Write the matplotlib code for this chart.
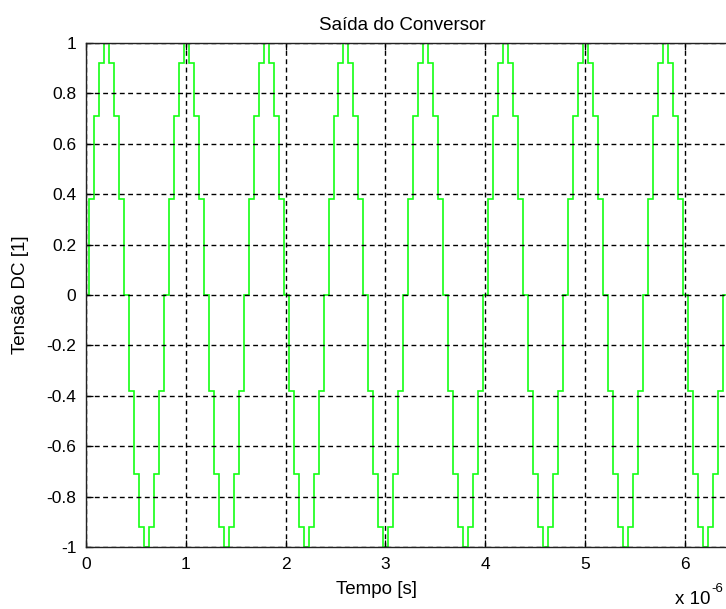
import matplotlib
matplotlib.use("Agg")
import matplotlib.pyplot as plt
import numpy as np

TITLE = "Saída do Conversor"
XLABEL = "Tempo [s]"
YLABEL = "Tensão DC [1]"

# nivel do conversor em cada degrau (16 degraus por periodo)
LEVELS = [
    0.0, 0.38, 0.71, 0.92, 1.0, 0.92, 0.71, 0.38, 0.0, -0.38, -0.71, -0.92, -1.0, -0.92, -0.71, -0.38,
    0.0, 0.38, 0.71, 0.92, 1.0, 0.92, 0.71, 0.38, 0.0, -0.38, -0.71, -0.92, -1.0, -0.92, -0.71, -0.38,
    0.0, 0.38, 0.71, 0.92, 1.0, 0.92, 0.71, 0.38, 0.0, -0.38, -0.71, -0.92, -1.0, -0.92, -0.71, -0.38,
    0.0, 0.38, 0.71, 0.92, 1.0, 0.92, 0.71, 0.38, 0.0, -0.38, -0.71, -0.92, -1.0, -0.92, -0.71, -0.38,
    0.0, 0.38, 0.71, 0.92, 1.0, 0.92, 0.71, 0.38, 0.0, -0.38, -0.71, -0.92, -1.0, -0.92, -0.71, -0.38,
    0.0, 0.38, 0.71, 0.92, 1.0, 0.92, 0.71, 0.38, 0.0, -0.38, -0.71, -0.92, -1.0, -0.92, -0.71, -0.38,
    0.0, 0.38, 0.71, 0.92, 1.0, 0.92, 0.71, 0.38, 0.0, -0.38, -0.71, -0.92, -1.0, -0.92, -0.71, -0.38,
    0.0, 0.38, 0.71, 0.92, 1.0, 0.92, 0.71, 0.38, 0.0, -0.38, -0.71, -0.92, -1.0, -0.92, -0.71, -0.38,
    0.0, 0.38, 0.71,
]
STEP = 0.05        # duracao de um degrau [us]
FIRST_EDGE = 0.03  # primeira transicao [us]

X_TICKS = [0, 1, 2, 3, 4, 5, 6]
Y_TICKS = [-1, -0.8, -0.6, -0.4, -0.2, 0, 0.2, 0.4, 0.6, 0.8, 1]
Y_TICK_LABELS = ["-1", "-0.8", "-0.6", "-0.4", "-0.2", "0", "0.2", "0.4", "0.6", "0.8", "1"]

plt.rcParams["font.family"] = ["Liberation Sans", "DejaVu Sans"]

W, H = 726, 609
fig = plt.figure(figsize=(W / 100, H / 100), dpi=100)
fig.patch.set_facecolor("white")
ax_w = 6.5 * 99.8 / W
ax = fig.add_axes([86 / W, 62 / H, ax_w, 504 / H])

# bordas dos degraus: inicio em t=0, depois uma transicao a cada STEP
edges = np.concatenate([[0.0], FIRST_EDGE + STEP * np.arange(len(LEVELS))])
ax.stairs(LEVELS, edges, baseline=None, color="#14ff14", linewidth=1.2)

ax.set_xlim(0, 6.5)
ax.set_ylim(-1, 1)
ax.set_xticks(X_TICKS)
ax.set_xticklabels([str(t) for t in X_TICKS])
ax.set_yticks(Y_TICKS)
ax.set_yticklabels(Y_TICK_LABELS)

ax.grid(True, color="black", linestyle=(0, (3.5, 2.5)), linewidth=1.0)
ax.tick_params(direction="in", length=5, width=0.9, labelsize=12.5, pad=7,
               top=True, right=True, colors="black")
for s in ax.spines.values():
    s.set_linewidth(1.0)
    s.set_color("#222222")

ax_px_w = ax_w * W
ax.set_title(TITLE, fontsize=13.5, x=(402 - 86) / ax_px_w, y=1.0, pad=9)
ax.set_xlabel(XLABEL, fontsize=13.5)
ax.xaxis.set_label_coords((376 - 86) / ax_px_w, -(590 - 547) / 504)
ax.xaxis.label.set_va("center")
ax.set_ylabel(YLABEL, fontsize=13.5)
ax.yaxis.set_label_coords(-(86 - 21) / ax_px_w, 0.5)
ax.yaxis.label.set_va("center")

# fator de escala do eixo x, como no MATLAB
fig.text(675 / W, 1 - 604 / H, "x 10", fontsize=13.5, ha="left", va="baseline")
fig.text(711 / W, 1 - 592 / H, "-6", fontsize=9.5, ha="left", va="baseline")

fig.savefig("out.png", dpi=100)
